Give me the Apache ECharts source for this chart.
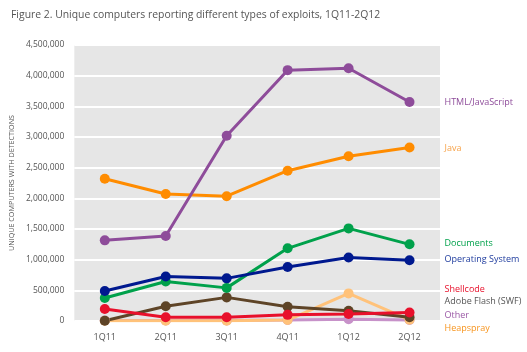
<!DOCTYPE html>
<html lang="en">
<head>
<meta charset="UTF-8">
<title>Exploits 1Q11-2Q12</title>
<script src="https://cdn.jsdelivr.net/npm/echarts@6/dist/echarts.min.js"></script>
<style>
  html, body { margin: 0; padding: 0; background: #fff; }
  #main { width: 527px; height: 352px; }
</style>
</head>
<body>
<div id="main"></div>
<script>
// quarters on the x axis
var quarters = ['1Q11', '2Q11', '3Q11', '4Q11', '1Q12', '2Q12'];

// unique computers per quarter
var htmlJs     = [1315000, 1385000, 3020000, 4090000, 4120000, 3570000];
var java       = [2320000, 2070000, 2035000, 2450000, 2685000, 2830000];
var documents  = [375000, 645000, 540000, 1185000, 1510000, 1250000];
var opSystem   = [490000, 725000, 695000, 880000, 1035000, 990000];
var shellcode  = [195000, 60000, 60000, 100000, 115000, 140000];
var adobeFlash = [5000, 240000, 385000, 232000, 167000, 60000];
var other      = [10000, 10000, 10000, 15000, 30000, 15000];
var heapspray  = [5000, 5000, 5000, 15000, 450000, 20000];

var chart = echarts.init(document.getElementById('main'));

function mk(name, data, color, textColor, dy) {
    return {
        name: name,
        type: 'line',
        data: data,
        symbol: 'circle',
        symbolSize: 10,
        lineStyle: { width: 3, color: color },
        itemStyle: { color: color },
        endLabel: {
            show: true,
            formatter: '{a}',
            distance: 35,
            offset: [0, dy],
            color: textColor,
            fontFamily: 'Open Sans',
            fontSize: 9
        },
        emphasis: { disabled: true },
        animation: false
    };
}

var option = {
    backgroundColor: '#fff',
    title: {
        text: 'Figure 2. Unique computers reporting different types of exploits, 1Q11-2Q12',
        left: 6,
        top: 5,
        textStyle: { fontFamily: 'Open Sans', fontSize: 10.4, fontWeight: 'normal', color: '#555' }
    },
    grid: {
        left: 72, right: 87, top: 45, bottom: 31,
        show: true, backgroundColor: '#e6e6e6', borderWidth: 0
    },
    xAxis: {
        type: 'category',
        data: quarters,
        axisLine: { show: false },
        axisTick: { show: false },
        axisLabel: { color: '#555', fontFamily: 'Open Sans', fontSize: 9, margin: 12 }
    },
    yAxis: {
        type: 'value',
        min: 0,
        max: 4500000,
        interval: 500000,
        name: 'UNIQUE COMPUTERS WITH DETECTIONS',
        nameLocation: 'middle',
        nameGap: 52,
        nameTextStyle: { color: '#555', fontFamily: 'Open Sans', fontSize: 7.2 },
        axisLine: { show: false },
        axisTick: { show: false },
        splitLine: { lineStyle: { color: '#fff', width: 2 } },
        axisLabel: {
            color: '#555', fontFamily: 'Open Sans', fontSize: 8.5, margin: 10,
            formatter: function (v) { return v.toLocaleString('en-US'); }
        }
    },
    series: [
        mk('Other', other, '#c792c9', '#9b59a6', -5),
        mk('Heapspray', heapspray, '#ffc27a', '#f7941d', 9),
        mk('Adobe Flash (SWF)', adobeFlash, '#5e4427', '#555555', -16),
        mk('Shellcode', shellcode, '#e8102b', '#e8102b', -23),
        mk('Documents', documents, '#00a14b', '#00a14b', -1),
        mk('Operating System', opSystem, '#00198f', '#1f3c9e', -1),
        mk('Java', java, '#ff8c00', '#f7a34a', 1),
        mk('HTML/JavaScript', htmlJs, '#8e4c9a', '#8e4c9a', 0)
    ]
};

chart.setOption(option);
</script>
</body>
</html>
